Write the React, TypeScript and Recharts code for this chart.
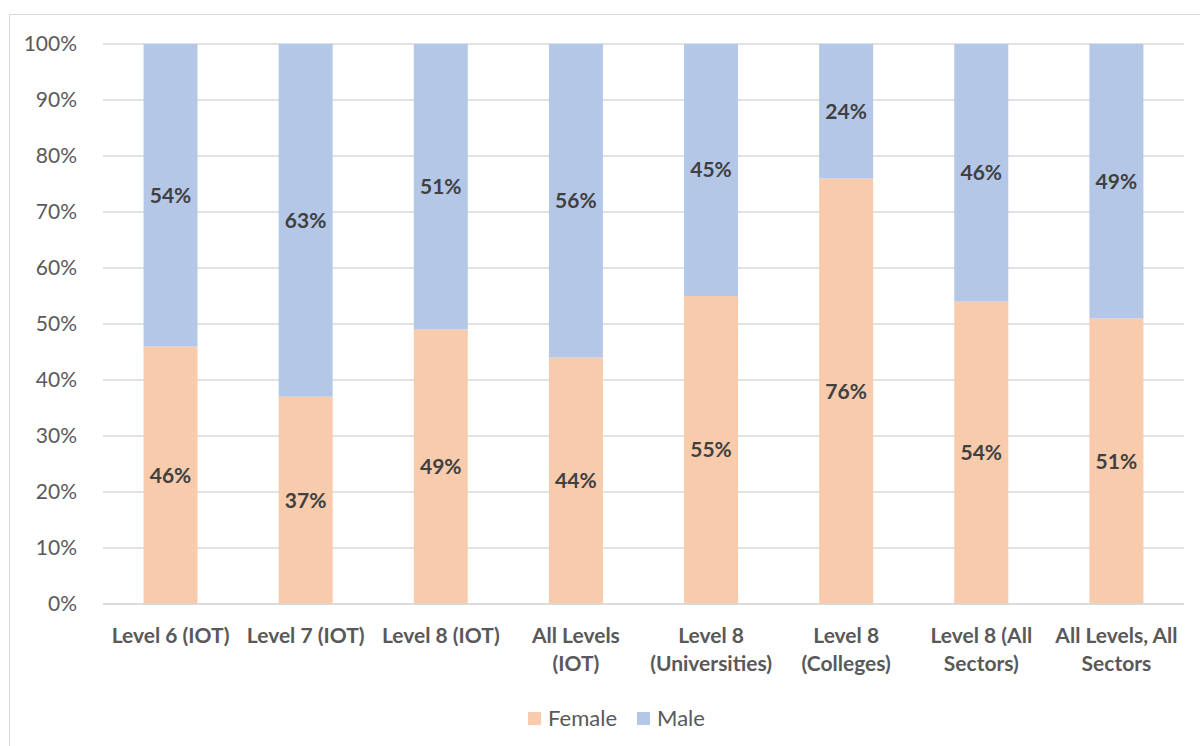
import { BarChart, Bar, XAxis, YAxis, CartesianGrid, LabelList, Legend } from "recharts";

const categories = [
  "Level 6 (IOT)",
  "Level 7 (IOT)",
  "Level 8 (IOT)",
  "All Levels\n(IOT)",
  "Level 8\n(Universities)",
  "Level 8\n(Colleges)",
  "Level 8 (All\nSectors)",
  "All Levels, All\nSectors",
];
const female = [46, 37, 49, 44, 55, 76, 54, 51];
const male = [54, 63, 51, 56, 45, 24, 46, 49];
const yTicks = [0, 10, 20, 30, 40, 50, 60, 70, 80, 90, 100];

const data = categories.map((name, i) => ({ name, female: female[i], male: male[i] }));

const FONT = "Lato, 'Open Sans', sans-serif";
const FEMALE_COLOR = "#F8CBAD";
const MALE_COLOR = "#B4C7E7";

function CategoryTick({ x, y, payload }: { x?: number; y?: number; payload?: { value: string } }) {
  const lines = String(payload?.value ?? "").split("\n");
  return (
    <text
      x={x}
      y={(y ?? 0) + 31}
      textAnchor="middle"
      fill="#595959"
      fontSize={21}
      fontWeight={700}
      fontFamily={FONT}
    >
      {lines.map((l, i) => (
        <tspan key={i} x={x} dy={i === 0 ? 0 : 28}>
          {l}
        </tspan>
      ))}
    </text>
  );
}

function LegendContent() {
  const items = [
    { label: "Female", color: FEMALE_COLOR },
    { label: "Male", color: MALE_COLOR },
  ];
  return (
    <div
      style={{
        display: "flex",
        justifyContent: "center",
        gap: 20,
        paddingLeft: 33,
        fontFamily: FONT,
        fontSize: 22,
        color: "#595959",
        lineHeight: "26px",
      }}
    >
      {items.map((it) => (
        <div key={it.label} style={{ display: "flex", alignItems: "center", gap: 7 }}>
          <span style={{ width: 13, height: 13, background: it.color, display: "inline-block" }} />
          <span>{it.label}</span>
        </div>
      ))}
    </div>
  );
}

export default function App() {
  return (
    <div style={{ position: "absolute", left: 0, top: 0, width: 1200, height: 746, background: "#fff", overflow: "hidden" }}>
      <div
        style={{
          position: "absolute",
          left: 9,
          top: 14,
          width: 1220,
          height: 760,
          border: "1px solid #d9d9d9",
          boxSizing: "border-box",
        }}
      />
      <BarChart
        width={1200}
        height={746}
        data={data}
        margin={{ top: 44, right: 16, left: 43, bottom: 36 }}
        barCategoryGap="30%"
      >
        <CartesianGrid vertical={false} stroke="#d9d9d9" strokeWidth={1.3} />
        <XAxis
          dataKey="name"
          interval={0}
          tickLine={false}
          axisLine={{ stroke: "#d9d9d9", strokeWidth: 1.5 }}
          tick={<CategoryTick />}
          height={80}
        />
        <YAxis
          domain={[0, 100]}
          ticks={yTicks}
          width={60}
          axisLine={false}
          tickLine={false}
          tickFormatter={(v: number) => `${v}%`}
          tick={{ fill: "#595959", fontSize: 21, fontFamily: FONT }}
          tickMargin={20}
        />
        <Legend
          verticalAlign="bottom"
          content={<LegendContent />}
          wrapperStyle={{ top: 705, left: 0, width: 1200 }}
        />
        <Bar dataKey="female" name="Female" stackId="a" fill={FEMALE_COLOR} isAnimationActive={false}>
          <LabelList
            dataKey="female"
            position="center"
            formatter={(v: number) => `${v}%`}
            fill="#404040"
            fontSize={21}
            fontWeight={700}
            fontFamily={FONT}
          />
        </Bar>
        <Bar dataKey="male" name="Male" stackId="a" fill={MALE_COLOR} isAnimationActive={false}>
          <LabelList
            dataKey="male"
            position="center"
            formatter={(v: number) => `${v}%`}
            fill="#404040"
            fontSize={21}
            fontWeight={700}
            fontFamily={FONT}
          />
        </Bar>
      </BarChart>
    </div>
  );
}
